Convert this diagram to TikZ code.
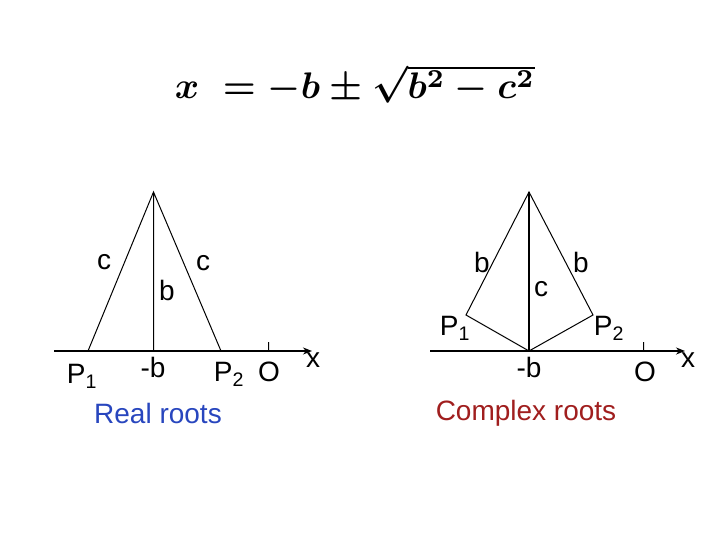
\documentclass[tikz,border=0pt]{standalone}
\usepackage{amsmath,graphicx}
\usepackage{fontspec}
\setmainfont{Liberation Sans}
\usetikzlibrary{arrows.meta}
\begin{document}
\begin{tikzpicture}[x=1pt,y=-1pt,
  lbl/.style={font=\fontsize{28}{30}\selectfont, inner sep=0pt},
  axis/.style={line width=1.6pt,-{Stealth[length=9pt,width=7pt]}},
  thin/.style={line width=1pt}]
\useasboundingbox (0,0) rectangle (720,540);
\node[inner sep=0pt] (f) at (355,84) {\resizebox{360pt}{!}{\boldmath$x\;=-b\pm\sqrt{b^2-c^2}$}};
% left
\coordinate (la0) at (54,351); \coordinate (la1) at (312,351);
\coordinate (A) at (153.5,192); \coordinate (F1) at (88,351); \coordinate (F2) at (221,351); \coordinate (M) at (153.5,351);
\coordinate (O1) at (268.5,351); \coordinate (O1t) at (268.5,342);
\draw[axis] (la0) -- (la1);
\draw[thin] (F1) -- (A) -- (F2) (A) -- (M) (O1) -- (O1t);
\node[lbl] (c1) at (104,262) {c};
\node[lbl] (b1) at (167,290) {b};
\node[lbl] (c2) at (203,263) {c};
\node[lbl] (p1) at (82,376) {P\textsubscript{1}};
\node[lbl] (mb1) at (153,367) {-b};
\node[lbl] (p2) at (229,374) {P\textsubscript{2}};
\node[lbl] (o1) at (269,372) {O};
\node[lbl] (x1) at (313,360) {x};
\node[lbl, text={rgb,255:red,40;green,70;blue,190}] (rr) at (158,413) {Real roots};
% right
\coordinate (ra0) at (430,351); \coordinate (ra1) at (685,351);
\coordinate (B) at (529,192); \coordinate (Q1) at (466,315); \coordinate (Q2) at (593,315); \coordinate (N) at (529,351);
\coordinate (O2) at (643.5,351); \coordinate (O2t) at (643.5,342);
\draw[axis] (ra0) -- (ra1);
\draw[thin] (B) -- (Q1) -- (N) -- (Q2) -- cycle (O2) -- (O2t);
\draw[line width=1.4pt] (B) -- (N);
\node[lbl] (b2) at (482,262) {b};
\node[lbl] (c3) at (541,289) {c};
\node[lbl] (b3) at (581,262) {b};
\node[lbl] (q1) at (455,328) {P\textsubscript{1}};
\node[lbl] (q2) at (609,328) {P\textsubscript{2}};
\node[lbl] (mb2) at (529,367) {-b};
\node[lbl] (o2) at (645,372) {O};
\node[lbl] (x2) at (688,360) {x};
\node[lbl, text={rgb,255:red,160;green,30;blue,30}] (cr) at (526,413) {Complex roots};
\end{tikzpicture}
\end{document}
